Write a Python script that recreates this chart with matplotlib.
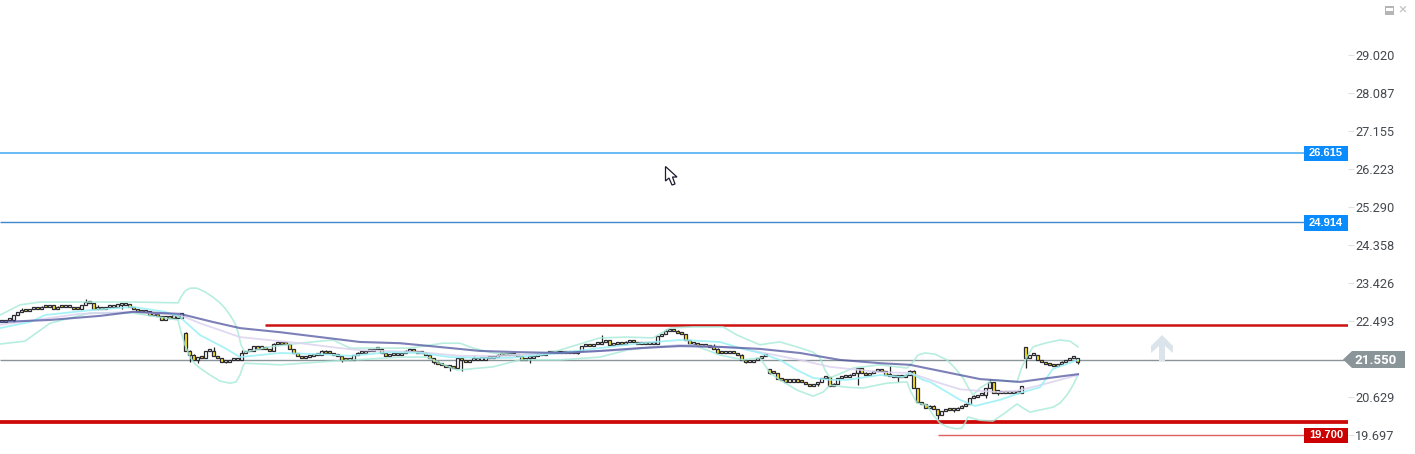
import matplotlib
matplotlib.use('Agg')
import matplotlib.pyplot as plt
from matplotlib.patches import Polygon, Rectangle
import numpy as np

plt.rcParams['font.family'] = ['Roboto', 'DejaVu Sans']

W, H = 1415, 454
bar_step = 4

tickValues = [29.020, 28.087, 27.155, 26.223, 25.290, 24.358, 23.426, 22.493, 20.629, 19.697]
lastPrice = 21.550
bluelines = [26.615, 24.914]
resist = 22.396
support = 20.005
stopLevel = 19.700

# close of every bar
closes = [
    22.49, 22.52, 22.54, 22.64, 22.72, 22.76, 22.74, 22.79, 22.81, 22.79, 22.86, 22.84, 22.89, 22.81, 22.86, 22.84,
    22.84, 22.84, 22.81, 22.79, 22.89, 22.98, 22.94, 22.81, 22.84, 22.81, 22.84, 22.84, 22.86, 22.89, 22.89, 22.91,
    22.84, 22.79, 22.76, 22.72, 22.74, 22.64, 22.67, 22.62, 22.54, 22.62, 22.57, 22.64, 22.59, 22.69,
    21.78, 21.68, 21.54, 21.61, 21.59, 21.76, 21.78, 21.64, 21.59, 21.51, 21.51, 21.54, 21.54, 21.54, 21.73, 21.76,
    21.78, 21.88, 21.83, 21.83, 21.81, 21.78, 21.95, 21.98, 21.95, 21.93, 21.81, 21.71, 21.64, 21.59, 21.61, 21.64,
    21.68, 21.68, 21.78, 21.73, 21.71, 21.68, 21.64, 21.56, 21.54, 21.54, 21.66, 21.73,
    21.73, 21.76, 21.78, 21.81, 21.83, 21.71, 21.64, 21.66, 21.68, 21.68, 21.71, 21.78, 21.78, 21.76, 21.73, 21.73,
    21.68, 21.59, 21.51, 21.44, 21.42, 21.37, 21.37, 21.34, 21.59, 21.54, 21.51, 21.54, 21.54, 21.56, 21.56, 21.59,
    21.59, 21.61, 21.68, 21.66, 21.66, 21.68, 21.68, 21.64, 21.54, 21.59, 21.59, 21.64, 21.66, 21.68, 21.71, 21.71,
    21.73, 21.73, 21.71, 21.73, 21.73, 21.73, 21.76, 21.88, 21.91, 21.88, 21.93, 21.95, 21.98, 22.03, 21.91, 21.93,
    21.98, 21.95, 22.00, 22.00, 21.98, 21.95, 21.95, 21.93, 21.93, 21.95, 22.13, 22.18, 22.25, 22.30, 22.27, 22.20,
    22.18, 22.03, 21.93, 21.93, 21.91, 21.88, 21.88, 21.86, 21.83, 21.73, 21.71, 21.73, 21.76, 21.71, 21.68, 21.56,
    21.49, 21.51, 21.54, 21.59, 21.64, 21.68,
    21.24, 21.22, 21.07, 21.05, 21.02, 21.02, 21.05, 21.02, 21.00, 20.95, 20.92, 20.95, 21.00, 21.10, 21.12, 20.92,
    20.97, 21.10, 21.12, 21.12, 21.19, 21.22, 21.34, 21.24, 21.17, 21.22, 21.27, 21.29, 21.27, 21.17, 21.15, 21.12,
    21.15, 21.12, 21.19, 21.29, 20.85, 20.51, 20.46, 20.38, 20.43, 20.34, 20.21, 20.29, 20.34, 20.31, 20.31, 20.38,
    20.43, 20.48, 20.61, 20.65, 20.68, 20.68, 20.85, 21.00, 20.75, 20.75, 20.73, 20.73, 20.73, 20.73, 20.75, 20.90,
    21.59, 21.66, 21.66, 21.54, 21.49, 21.46, 21.42, 21.39, 21.44, 21.51, 21.54, 21.59, 21.59, 21.51,
]
# bars whose open does not sit on the previous close
gapOpens = {46: 22.22, 192: 21.32, 256: 21.86}
wickHigh = {5: 22.81, 13: 22.86, 21: 23.03, 24: 22.89, 46: 22.22, 53: 21.86, 60: 21.78, 69: 22.00, 87: 21.59,
            102: 21.83, 118: 21.64, 135: 21.61, 150: 22.15, 166: 22.30, 178: 21.93, 205: 21.10, 214: 21.22,
            222: 21.39, 243: 20.68, 247: 21.07, 256: 21.86, 268: 21.61}
wickLow = {3: 22.47, 30: 22.79, 47: 21.49, 49: 21.46, 56: 21.46, 85: 21.49, 108: 21.44, 112: 21.27, 115: 21.27,
           132: 21.46, 144: 21.68, 186: 21.46, 192: 21.20, 204: 20.90, 214: 20.92, 224: 21.00, 234: 20.09,
           238: 20.26, 246: 20.60, 249: 20.68, 256: 21.34, 269: 21.44}

slowX = [0, 50, 100, 133, 180, 213, 240, 280, 320, 360, 400, 430, 480, 520, 560, 600, 640, 680, 720, 760, 800, 840,
         880, 910, 950, 980, 1020, 1050, 1078]
slowMa = [22.47, 22.52, 22.62, 22.72, 22.67, 22.47, 22.32, 22.22, 22.10, 21.98, 21.95, 21.88, 21.76, 21.73, 21.71,
          21.76, 21.83, 21.88, 21.86, 21.81, 21.71, 21.54, 21.46, 21.42, 21.22, 21.07, 21.00, 21.10, 21.19]
midX = [0, 50, 80, 133, 180, 200, 240, 300, 340, 360, 420, 460, 500, 560, 620, 680, 740, 760, 800, 830, 880, 910, 940,
        960, 980, 1000, 1017, 1040, 1078]
midMa = [22.40, 22.57, 22.67, 22.72, 22.64, 22.44, 22.10, 21.95, 21.83, 21.78, 21.73, 21.64, 21.64, 21.71, 21.78,
         21.91, 21.83, 21.73, 21.54, 21.37, 21.24, 21.22, 20.97, 20.82, 20.78, 20.75, 20.78, 20.92, 21.17]
fastX = [0, 30, 45, 90, 133, 165, 180, 200, 225, 240, 280, 320, 350, 390, 420, 450, 480, 510, 560, 600, 640, 680, 720,
         740, 760, 780, 797, 813, 830, 847, 880, 903, 910, 923, 930, 960, 975, 1000, 1020, 1040, 1053, 1078]
fastMa = [22.32, 22.47, 22.64, 22.76, 22.84, 22.72, 22.59, 22.15, 21.83, 21.61, 21.71, 21.68, 21.64, 21.73, 21.71,
          21.61, 21.59, 21.59, 21.71, 21.83, 21.95, 22.03, 21.98, 21.83, 21.71, 21.54, 21.29, 21.10, 21.05, 21.05,
          21.17, 21.12, 21.22, 21.05, 21.00, 20.56, 20.41, 20.56, 20.73, 20.87, 21.32, 21.54]
upperX = [0, 20, 40, 90, 133, 178, 181, 185, 190, 197, 205, 213, 220, 225, 230, 235, 238, 241, 245, 270, 300, 333, 350,
          410, 443, 460, 473, 493, 520, 553, 577, 600, 627, 653, 670, 693, 723, 737, 760, 770, 780, 797, 813, 820, 825,
          830, 837, 853, 880, 907, 912, 918, 925, 935, 947, 955, 963, 968, 973, 980, 993, 1017, 1022, 1028, 1033, 1045,
          1060, 1070, 1078]
upperBand = [22.64, 22.89, 22.96, 22.96, 22.96, 22.94, 23.08, 23.23, 23.30, 23.30, 23.21, 23.08, 22.94, 22.81, 22.64,
             22.44, 22.22, 21.91, 21.73, 21.86, 21.95, 22.03, 21.83, 21.83, 21.95, 21.95, 21.83, 21.71, 21.66, 21.73,
             21.91, 22.08, 22.10, 22.08, 22.32, 22.35, 22.35, 22.15, 21.91, 21.95, 21.98, 21.86, 21.73, 21.59, 21.29,
             21.10, 21.17, 21.34, 21.42, 21.34, 21.46, 21.66, 21.71, 21.68, 21.54, 21.34, 21.10, 20.87, 20.68, 20.85,
             21.05, 21.00, 21.37, 21.66, 21.86, 21.95, 22.03, 22.00, 21.86]
lowerX = [0, 25, 50, 90, 133, 178, 181, 185, 190, 195, 200, 210, 220, 230, 236, 240, 243, 245, 280, 333, 403, 427, 440,
          457, 493, 520, 560, 600, 627, 653, 693, 720, 743, 760, 770, 780, 797, 813, 823, 830, 847, 863, 887, 907, 910,
          917, 927, 933, 940, 948, 957, 962, 965, 968, 980, 993, 1005, 1017, 1023, 1030, 1053, 1060, 1067, 1073, 1078]
lowerBand = [21.93, 22.00, 22.44, 22.69, 22.69, 22.52, 22.22, 21.91, 21.61, 21.44, 21.34, 21.17, 21.02, 20.97, 21.00,
             21.17, 21.39, 21.46, 21.42, 21.51, 21.61, 21.61, 21.46, 21.29, 21.37, 21.54, 21.54, 21.61, 21.78, 21.86,
             21.91, 21.66, 21.54, 21.59, 21.22, 21.05, 20.80, 20.65, 20.75, 20.92, 20.87, 20.85, 20.97, 21.00, 20.80,
             20.48, 20.43, 20.19, 19.99, 19.89, 19.85, 19.87, 19.99, 20.14, 20.06, 20.04, 20.24, 20.46, 20.36, 20.26,
             20.38, 20.48, 20.68, 20.92, 21.17]


def figxy(x, y):
    return x / W, 1 - y / H


def figpoly(points, **kw):
    fig.add_artist(Polygon([figxy(x, y) for x, y in points], closed=True, transform=fig.transFigure, **kw))


fig = plt.figure(figsize=(W / 100, H / 100), dpi=100, facecolor='white')
ax = fig.add_axes([0, 0, 1348 / W, 1])
ax.set_xlim(0, 1348)
ax.set_ylim(19.232, 30.369)
for s in ax.spines.values():
    s.set_visible(False)
ax.set_xticks([])
ax.yaxis.tick_right()
ax.set_yticks(tickValues)
ax.set_yticklabels(['%.3f' % v for v in tickValues])
ax.tick_params(axis='y', length=4, width=0.8, color='#e2e2e2', labelcolor='#444a50', labelsize=9.2, pad=1)

# candles
closes = np.array(closes)
xs = np.arange(len(closes)) * bar_step + 1.5
opens = np.r_[closes[0], closes[:-1]]
for i, v in gapOpens.items():
    opens[i] = v
highs = np.maximum(opens, closes)
lows = np.minimum(opens, closes)
for i, v in wickHigh.items():
    highs[i] = max(highs[i], v)
for i, v in wickLow.items():
    lows[i] = min(lows[i], v)
ax.vlines(xs, lows, highs, color='#222222', lw=0.9, zorder=2)
cols = ['#ffe81a' if c < o else 'white' for o, c in zip(opens, closes)]
ax.bar(xs, np.maximum(np.abs(closes - opens), 0.05), bottom=np.minimum(opens, closes) - 0.01, width=3.2, color=cols,
       edgecolor='#2a2a30', linewidth=0.9, zorder=3)

# indicators
ax.plot(upperX, upperBand, color='#a6ead8', lw=1.2, alpha=0.8, zorder=4)
ax.plot(lowerX, lowerBand, color='#a6ead8', lw=1.2, alpha=0.8, zorder=4)
ax.plot(midX, midMa, color='#dcd2f0', lw=1.3, alpha=0.85, zorder=4)
ax.plot(fastX, fastMa, color='#98f0f6', lw=1.3, alpha=0.85, zorder=4)
ax.plot(slowX, slowMa, color='#50559f', lw=1.5, alpha=0.75, zorder=5)

# level lines
ax.hlines(lastPrice, 0, 1345, color='#8a9599', lw=1, zorder=1)
ax.hlines(bluelines[0], 0, 1305, color='#5cb4f5', lw=1.3, zorder=1)
ax.hlines(bluelines[1], 0, 1305, color='#3d88cc', lw=1, zorder=1)
ax.hlines(resist, 265, 1348, color='#cc1111', lw=1.8, zorder=1)
ax.hlines(support, 0, 1348, color='#cc0808', lw=2.7, zorder=1)
ax.hlines(stopLevel, 938, 1305, color='#e06060', lw=1, zorder=1)

# price tags
for price, y, col in [(bluelines[0], 153.5, '#0a8cff'), (bluelines[1], 223, '#0a8cff'), (stopLevel, 435.5, '#cc0000')]:
    fig.add_artist(Rectangle(figxy(1304, y + 7.5), 44 / W, 15 / H, transform=fig.transFigure, color=col, lw=0))
    fig.text(*figxy(1326, y), '%.3f' % price, color='white', fontsize=8, fontweight='bold', family='Liberation Sans',
             ha='center', va='center')

figpoly([(1343, 359.5), (1352, 351), (1405, 351), (1405, 368), (1352, 368)], color='#8a9599', lw=0)
fig.text(*figxy(1376, 360), '%.3f' % lastPrice, color='white', fontsize=9.6, fontweight='bold', ha='center', va='center')

# up arrow
figpoly([(1162, 335), (1173, 346), (1173, 353), (1165, 346), (1165, 361), (1159, 361), (1159, 346), (1151, 353),
         (1151, 346)], color='#dbe4ea', lw=0)

# mouse cursor
figpoly([(665.5, 166.5), (665.5, 181), (669, 178), (672, 185), (675, 184), (672.5, 177), (677, 177)],
        facecolor='white', edgecolor='#1c1c30', lw=0.9)

# window buttons
fig.add_artist(Rectangle(figxy(1385, 14.5), 8.5 / W, 8 / H, transform=fig.transFigure, color='#b5b5b5', lw=0))
fig.add_artist(Rectangle(figxy(1386, 11), 6.5 / W, 3 / H, transform=fig.transFigure, color='white', lw=0))
fig.text(*figxy(1402, 10), '\u00d7', color='#c4c4c4', fontsize=11, ha='center', va='center')

fig.savefig('out.png', dpi=100)
